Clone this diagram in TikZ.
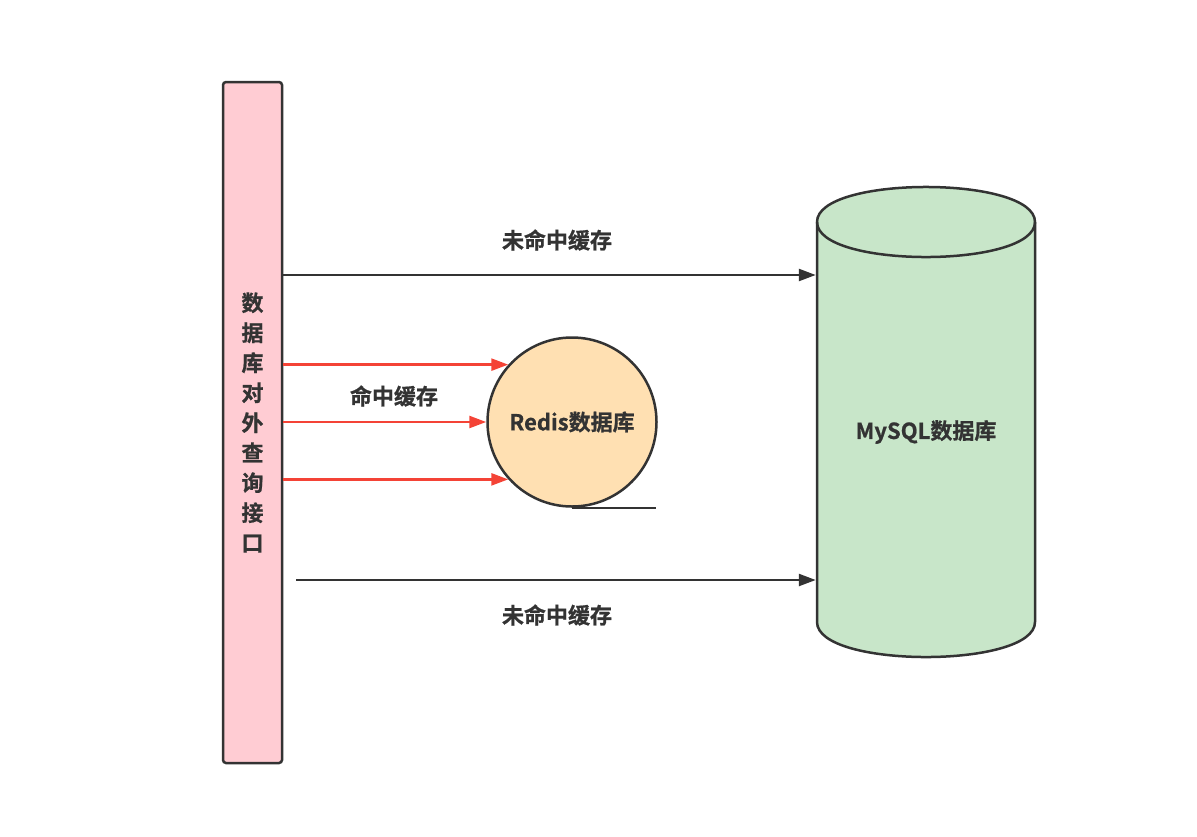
\documentclass[tikz,border=0pt]{standalone}
\usepackage{fontspec}
\setmainfont{Noto Sans CJK SC}[BoldFont={Noto Sans CJK SC Bold}, BoldFeatures={FakeBold=0.8}]
\usepackage{tikz}
\usetikzlibrary{arrows.meta}
\definecolor{darkline}{HTML}{333333}
\definecolor{hitred}{HTML}{F44336}
\definecolor{barpink}{HTML}{FFCCD3}
\definecolor{redisorange}{HTML}{FFE0B2}
\definecolor{mysqlgreen}{HTML}{C8E6C9}

\begin{document}
\begin{tikzpicture}[x=1pt, y=-1pt, line width=2.5pt, draw=darkline, text=darkline,
    font=\bfseries\fontsize{22}{30}\selectfont,
    >={Triangle[length=17pt, width=12pt]}]
    \useasboundingbox (0,0) rectangle (1197,836);

    % Query interface
    \node[rectangle, draw, fill=barpink, rounded corners=3pt, minimum width=59pt, minimum height=681pt, align=center] (API) at (252.5, 422.5) {数\\据\\库\\对\\外\\查\\询\\接\\口};

    % Redis cache
    \node[circle, draw, fill=redisorange, minimum size=169pt] (REDIS) at (572, 422) {Redis数据库};
    \draw (REDIS.south) -- +(84,0);

    % MySQL database
    \draw[fill=mysqlgreen] (817,222) .. controls (817,175.3) and (1035,175.3) .. (1035,222) -- (1035,622) .. controls (1035,668.7) and (817,668.7) .. (817,622) -- cycle;
    \draw (817,222) .. controls (817,268.7) and (1035,268.7) .. (1035,222);
    \node[rectangle, minimum width=218pt, minimum height=470pt] (MYSQL) at (926, 422) {};
    \node (MYSQL_TXT) at (926, 432) {MySQL数据库};

    % Labels
    \node (MISS_HI) at (557, 240) {未命中缓存};
    \node (HIT) at (394, 396) {命中缓存};
    \node (MISS_LO) at (557, 615) {未命中缓存};

    % Connections
    \draw[->] (API.east |- 0,275) -- (MYSQL.west |- 0,275);
    \draw[->, hitred] (API.east |- REDIS.138) -- (REDIS.138);
    \draw[->, hitred] (API.east |- REDIS.west) -- (REDIS.west);
    \draw[->, hitred] (API.east |- REDIS.222) -- (REDIS.222);
    \draw[->] ([xshift=13pt]API.east |- 0,580) -- (MYSQL.west |- 0,580);
\end{tikzpicture}
\end{document}
